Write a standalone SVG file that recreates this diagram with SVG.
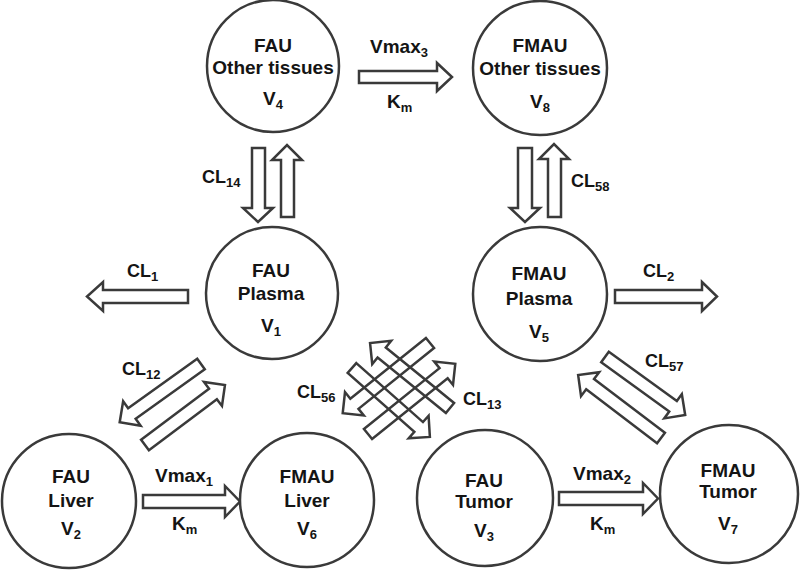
<svg xmlns="http://www.w3.org/2000/svg" width="800" height="573" viewBox="0 0 800 573">
<style>
.nd{fill:#fff;stroke:#3a3a3a;stroke-width:2.5}
.ar{fill:#fff;stroke:#3a3a3a;stroke-width:2.5;stroke-linejoin:miter}
.ax{fill:none;stroke:#3a3a3a;stroke-width:2.5}
text{font-family:"Liberation Sans",Arial,sans-serif;font-weight:bold;fill:#141414}
.t{font-size:19px;text-anchor:middle}
.l{font-size:18px}
.v{font-size:19px}
.s{font-size:13px}
</style>
<rect width="800" height="573" fill="#fff"/>
<g id="connectors">
  <!-- horizontal -->
  <path class="ar" d="M359,71 H437 V63 L452,77 L437,91 V83 H359 Z"/>
  <path class="ar" d="M143,495 H225 V486 L240,501.5 L225,517 V508 H143 Z"/>
  <path class="ar" d="M559,492 H643 V483 L658,498.5 L643,514 V505 H559 Z"/>
  <path class="ar" d="M188,290 H103 V282 L87,296.5 L103,311 V303 H188 Z"/>
  <path class="ar" d="M615,290 H702 V282 L717,296.5 L702,311 V303 H615 Z"/>
  <!-- vertical -->
  <path class="ar" d="M252,148 V208 H243 L258,222 L273,208 H265 V148 Z"/>
  <path class="ar" d="M281,217 V160 H272 L287,145 L302,160 H294 V217 Z"/>
  <path class="ar" d="M518,148 V208 H510 L525,222 L540,208 H532 V148 Z"/>
  <path class="ar" d="M548,217 V159 H539 L554,144 L569,159 H561 V217 Z"/>
  <!-- CL12 -->
  <path class="ar" transform="translate(201,364) rotate(144.4)" d="M0,-6.5 H85 V-15 L100,0 L85,15 V6.5 H0 Z"/>
  <path class="ar" transform="translate(145,445) rotate(-36.9)" d="M0,-6.5 H85 V-15 L100,0 L85,15 V6.5 H0 Z"/>
  <!-- CL57 -->
  <path class="ar" transform="translate(605,357) rotate(35.9)" d="M0,-6.5 H84 V-15 L99,0 L84,15 V6.5 H0 Z"/>
  <path class="ar" transform="translate(661,438) rotate(-142.8)" d="M0,-6.5 H89 V-15 L104,0 L89,15 V6.5 H0 Z"/>
  <!-- crossing CL56 / CL13 -->
  <path class="ax" transform="translate(368,434) rotate(-38.8)" d="M0,-6.5 H97 V-15 L112,0 L97,15 V6.5 H0 Z"/>
  <path class="ax" transform="translate(430,343) rotate(141.2)" d="M0,-6.5 H97 V-15 L112,0 L97,15 V6.5 H0 Z"/>
  <path class="ax" transform="translate(450,408) rotate(-140.9)" d="M0,-6.5 H88 V-15 L103,0 L88,15 V6.5 H0 Z"/>
  <path class="ax" transform="translate(352,368) rotate(41.5)" d="M0,-6.5 H89 V-15 L104,0 L89,15 V6.5 H0 Z"/>
</g>
<g id="labels">
  <text class="v" x="370" y="53">Vmax<tspan class="s" dy="4">3</tspan></text>
  <text class="v" x="387" y="108">K<tspan class="s" dy="4">m</tspan></text>
  <text class="v" x="155" y="482">Vmax<tspan class="s" dy="4">1</tspan></text>
  <text class="v" x="172" y="530">K<tspan class="s" dy="4">m</tspan></text>
  <text class="v" x="573" y="480">Vmax<tspan class="s" dy="4">2</tspan></text>
  <text class="v" x="590" y="530">K<tspan class="s" dy="4">m</tspan></text>
  <text class="l" x="202" y="183">CL<tspan class="s" dy="4">14</tspan></text>
  <text class="l" x="571" y="187">CL<tspan class="s" dy="4">58</tspan></text>
  <text class="l" x="127" y="277">CL<tspan class="s" dy="4">1</tspan></text>
  <text class="l" x="643" y="277">CL<tspan class="s" dy="4">2</tspan></text>
  <text class="l" x="122" y="375">CL<tspan class="s" dy="4">12</tspan></text>
  <text class="l" x="645" y="367">CL<tspan class="s" dy="4">57</tspan></text>
  <text class="l" x="297" y="398">CL<tspan class="s" dy="4">56</tspan></text>
  <text class="l" x="463" y="405">CL<tspan class="s" dy="4">13</tspan></text>
</g>
<g id="n4">
  <circle class="nd" cx="273" cy="66" r="66"/>
  <text class="t" x="273" y="52">FAU</text>
  <text class="t" x="273" y="74">Other tissues</text>
  <text class="t" x="273" y="105">V<tspan class="s" dy="4">4</tspan></text>
</g>
<g id="n8">
  <circle class="nd" cx="540" cy="68" r="67"/>
  <text class="t" x="540" y="52">FMAU</text>
  <text class="t" x="540" y="75">Other tissues</text>
  <text class="t" x="540" y="108">V<tspan class="s" dy="4">8</tspan></text>
</g>
<g id="n1">
  <circle class="nd" cx="272" cy="293" r="66"/>
  <text class="t" x="271" y="277">FAU</text>
  <text class="t" x="271" y="300">Plasma</text>
  <text class="t" x="271" y="332">V<tspan class="s" dy="4">1</tspan></text>
</g>
<g id="n5">
  <circle class="nd" cx="540" cy="294" r="67"/>
  <text class="t" x="539" y="280">FMAU</text>
  <text class="t" x="539" y="305">Plasma</text>
  <text class="t" x="539" y="338">V<tspan class="s" dy="4">5</tspan></text>
</g>
<g id="n2">
  <circle class="nd" cx="69" cy="501" r="67"/>
  <text class="t" x="71" y="483">FAU</text>
  <text class="t" x="71" y="507">Liver</text>
  <text class="t" x="71" y="535">V<tspan class="s" dy="4">2</tspan></text>
</g>
<g id="n6">
  <circle class="nd" cx="307" cy="500" r="67"/>
  <text class="t" x="307" y="483">FMAU</text>
  <text class="t" x="307" y="507">Liver</text>
  <text class="t" x="307" y="535">V<tspan class="s" dy="4">6</tspan></text>
</g>
<g id="n3">
  <circle class="nd" cx="485" cy="498" r="68"/>
  <text class="t" x="484" y="487">FAU</text>
  <text class="t" x="484" y="508">Tumor</text>
  <text class="t" x="484" y="537">V<tspan class="s" dy="4">3</tspan></text>
</g>
<g id="n7">
  <circle class="nd" cx="729" cy="494" r="69"/>
  <text class="t" x="728" y="477">FMAU</text>
  <text class="t" x="728" y="498">Tumor</text>
  <text class="t" x="728" y="530">V<tspan class="s" dy="4">7</tspan></text>
</g>
</svg>
